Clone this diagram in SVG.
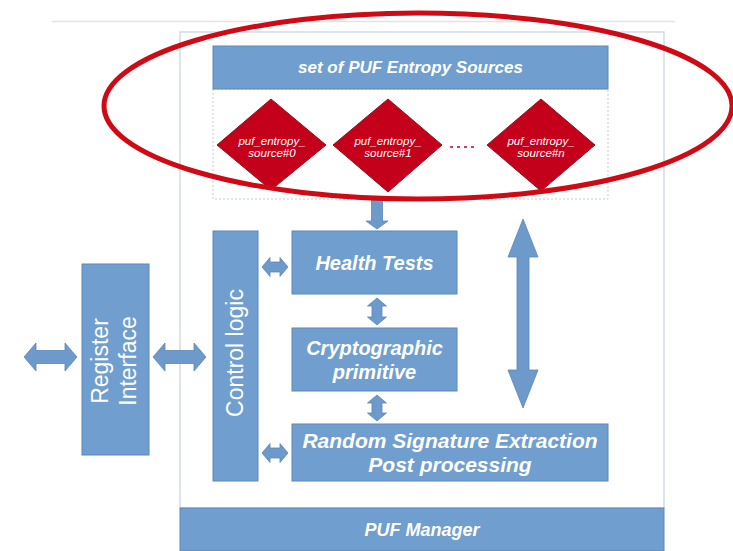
<svg xmlns="http://www.w3.org/2000/svg" width="733" height="551" viewBox="0 0 733 551">
  <style>
    .blk { fill: #709ecf; stroke: #5b88bb; stroke-width: 1; }
    .src { fill: #c4001a; stroke: #8e1424; stroke-width: 1; }
    .arr { fill: #6d9acb; stroke: #5a86b8; stroke-width: 0.8; }
    .lbl { fill: #ffffff; font-family: "Liberation Sans", Arial, sans-serif; text-anchor: middle; }
    .bi { font-style: italic; font-weight: bold; }
    .it { font-style: italic; }
  </style>

  <rect x="0" y="0" width="733" height="551" fill="#ffffff"/>

  <!-- page rule -->
  <line x1="52" y1="21.5" x2="675" y2="21.5" stroke="#e3e3e3" stroke-width="1.5"/>

  <!-- PUF manager frame -->
  <g id="puf-manager">
    <rect x="180" y="32" width="484" height="476" fill="#ffffff" stroke="#c6d2de" stroke-width="1.2"/>
    <rect class="blk" x="180" y="508" width="484" height="43"/>
    <text class="lbl bi" x="422" y="536" font-size="18">PUF Manager</text>
  </g>

  <!-- entropy source set -->
  <g id="entropy-sources">
    <rect x="213" y="89" width="395" height="110" fill="none" stroke="#c3ccd6" stroke-width="1" stroke-dasharray="2 2"/>
    <rect class="blk" x="213" y="46" width="395" height="43"/>
    <text class="lbl bi" x="410.5" y="73" font-size="17">set of PUF Entropy Sources</text>
  </g>

  <g id="source-0">
    <polygon class="src" points="271,99 326,145 271,190 217,145"/>
    <text class="lbl it" x="272" y="145" font-size="11.5">puf_entropy_</text>
    <text class="lbl it" x="272" y="157" font-size="11.5">source#0</text>
  </g>
  <g id="source-1">
    <polygon class="src" points="388,99 442,145 388,192 333,145"/>
    <text class="lbl it" x="388" y="145" font-size="11.5">puf_entropy_</text>
    <text class="lbl it" x="388" y="157" font-size="11.5">source#1</text>
  </g>
  <line x1="450" y1="147" x2="478" y2="147" stroke="#c4001a" stroke-width="1.6" stroke-dasharray="3 4"/>
  <g id="source-n">
    <polygon class="src" points="541,99 595,145 541,191 487,145"/>
    <text class="lbl it" x="541" y="145" font-size="11.5">puf_entropy_</text>
    <text class="lbl it" x="541" y="157" font-size="11.5">source#n</text>
  </g>

  <!-- functional blocks -->
  <g id="register-interface">
    <rect class="blk" x="82" y="264" width="67" height="191"/>
    <text class="lbl" transform="translate(108,361) rotate(-90)" font-size="23">Register</text>
    <text class="lbl" transform="translate(136,361) rotate(-90)" font-size="23">Interface</text>
  </g>

  <g id="control-logic">
    <rect class="blk" x="213" y="231" width="45" height="250"/>
    <text class="lbl" transform="translate(243,353) rotate(-90)" font-size="23">Control logic</text>
  </g>

  <g id="health-tests">
    <rect class="blk" x="292" y="231" width="165" height="63"/>
    <text class="lbl bi" x="374.5" y="270" font-size="20">Health Tests</text>
  </g>

  <g id="crypto-primitive">
    <rect class="blk" x="292" y="328" width="165" height="63"/>
    <text class="lbl bi" x="374.5" y="355" font-size="20">Cryptographic</text>
    <text class="lbl bi" x="374.5" y="379" font-size="20">primitive</text>
  </g>

  <g id="signature-extraction">
    <rect class="blk" x="292" y="424" width="316" height="57"/>
    <text class="lbl bi" x="450" y="448" font-size="21">Random Signature Extraction</text>
    <text class="lbl bi" x="450" y="472" font-size="21">Post processing</text>
  </g>

  <!-- connectors -->
  <g id="connectors">
    <!-- external bus to register interface -->
    <polygon class="arr" points="24,357 36,343 36,350.5 65,350.5 65,343 77,357 65,371 65,363.5 36,363.5 36,371"/>
    <!-- register interface to control logic -->
    <polygon class="arr" points="153,357 165,343 165,350.5 194,350.5 194,343 206,357 194,371 194,363.5 165,363.5 165,371"/>
    <!-- control logic to health tests -->
    <polygon class="arr" points="262,267 270,257.5 270,262 280,262 280,257.5 288,267 280,276.5 280,272 270,272 270,276.5"/>
    <!-- control logic to signature extraction -->
    <polygon class="arr" points="262,453 270,443.5 270,448 280,448 280,443.5 288,453 280,462.5 280,458 270,458 270,462.5"/>
    <!-- entropy sources into health tests -->
    <polygon class="arr" points="371.5,200 382.5,200 382.5,221 388,221 377,229 366,221 371.5,221"/>
    <!-- health tests to cryptographic primitive -->
    <polygon class="arr" points="377,298 386.5,306 382,306 382,317 386.5,317 377,325 367.5,317 372,317 372,306 367.5,306"/>
    <!-- cryptographic primitive to signature extraction -->
    <polygon class="arr" points="377,395 386.5,403 382,403 382,413 386.5,413 377,421 367.5,413 372,413 372,403 367.5,403"/>
    <!-- sources to signature extraction bypass -->
    <polygon class="arr" points="523,219 538,257 529,257 529,370 538,370 523,408 508,370 517,370 517,257 508,257"/>
  </g>

  <!-- highlight around the entropy sources -->
  <ellipse cx="418" cy="106" rx="314" ry="93" fill="none" stroke="#cf0a14" stroke-width="5"/>
</svg>
